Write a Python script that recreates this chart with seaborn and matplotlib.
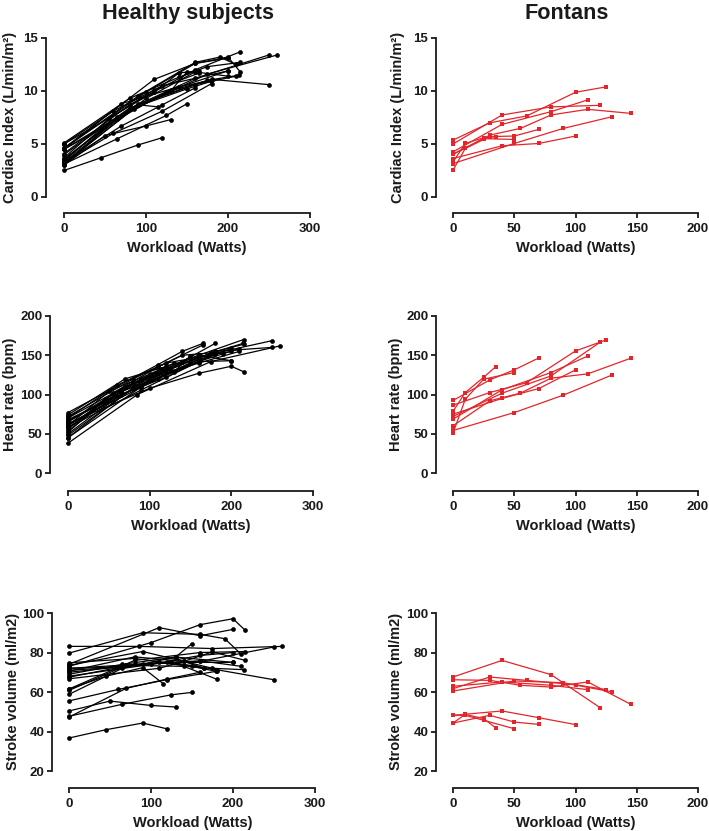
import numpy as np
import pandas as pd
import matplotlib
matplotlib.use("Agg")
import matplotlib.pyplot as plt
import seaborn as sns

# ---------------- data ----------------
# Healthy subjects: workload (W) per stage, and per-stage values
healthy_watts = [
    [0, 45, 90, 120], [0, 50, 100, 130], [0, 65, 125, 150], [0, 70, 120, 160],
    [0, 60, 120, 180], [0, 45, 90, 115], [0, 90, 160, 190, 210], [0, 85, 175, 260],
    [0, 110, 160, 200], [0, 100, 160, 200, 215], [0, 125, 180, 250], [0, 90, 160, 250],
    [0, 80, 160, 215], [0, 80, 140, 175, 215], [0, 110, 140, 165], [0, 70, 140, 180],
    [0, 65, 130, 200], [0, 65, 130, 150], [0, 90, 175, 214], [0, 60, 120, 200],
    [0, 80, 160, 210], [0, 80, 150, 179], [0, 100, 160, 200], [0, 55, 110, 165],
]
healthy_ci = [
    [2.5, 3.7, 4.9, 5.6], [3.0, 5.8, 6.7, 7.3], [3.1, 5.5, 7.7, 8.8], [3.3, 6.7, 8.7, 10.3],
    [3.2, 6.0, 8.1, 10.7], [3.4, 6.4, 8.7, 8.5], [4.6, 9.5, 12.7, 13.2, 12.5], [3.2, 8.3, 11.6, 13.4],
    [4.6, 11.1, 12.6, 13.1], [4.6, 9.9, 12.6, 13.2, 11.8], [4.5, 9.9, 11.1, 10.6], [4.5, 8.7, 11.2, 13.4],
    [4.1, 8.7, 12.0, 13.7], [5.1, 9.3, 11.3, 12.3, 12.7], [5.0, 9.9, 11.7, 11.9], [4.5, 8.8, 10.4, 11.0],
    [3.5, 7.4, 10.1, 11.9], [3.0, 7.5, 10.0, 11.8], [3.3, 8.8, 11.0, 11.5], [5.0, 8.1, 10.5, 11.9],
    [4.0, 8.4, 10.6, 11.4], [3.6, 8.3, 10.2, 10.9], [3.1, 9.3, 11.8, 11.4], [3.7, 7.4, 10.1, 11.7],
]
healthy_hr = [
    [68, 90, 111, 136], [60, 104, 126, 140], [66, 103, 132, 148], [70, 110, 130, 147],
    [58, 98, 122, 152], [56, 94, 120, 132], [58, 106, 142, 152, 158], [38, 100, 142, 162],
    [62, 120, 142, 143], [63, 108, 127, 136, 129], [62, 132, 155, 160], [65, 118, 148, 168.6],
    [66, 115, 150, 170], [72, 120, 150, 153, 164], [77, 138, 155, 165], [74, 120, 142, 165],
    [50, 100, 130, 159], [54, 104, 129, 149], [45, 110, 153, 165], [70, 112, 140, 155],
    [60, 114, 140, 155], [48, 108, 140, 152], [45, 125, 150, 143], [52, 102, 135, 163],
]
healthy_sv = [
    [36.7, 40.9, 44.3, 41.3], [50.4, 55.4, 53.2, 52.4], [47.7, 53.8, 58.6, 59.8], [47.3, 61.9, 66.6, 70.0],
    [55.5, 61.3, 66.3, 70.5], [61.5, 68.0, 72.3, 64.2], [79.7, 90.0, 89.2, 87.0, 79.1], [83.1, 83.1, 82.0, 83.1],
    [74.0, 92.6, 88.5, 91.7], [73.0, 85.0, 94.1, 97.1, 91.2], [72.0, 75.0, 71.3, 66.2], [70.0, 74.0, 75.5, 82.8],
    [61.5, 76.0, 80.0, 80.5], [70.5, 77.8, 75.5, 80.3, 76.0], [66.7, 72.0, 75.5, 72.0], [60.8, 73.5, 73.0, 66.5],
    [69.0, 74.0, 77.7, 75.0], [58.8, 72.0, 77.7, 84.5], [73.5, 80.5, 72.0, 71.3], [71.0, 72.5, 75.0, 75.0],
    [67.5, 74.0, 75.8, 73.0], [74.8, 77.0, 73.0, 70.5], [68.0, 74.0, 78.5, 80.0], [72.0, 72.5, 75.0, 72.0],
]

# Fontan patients
fontan_watts = [
    [0, 10, 25, 35], [0, 10, 25, 50], [0, 30, 50, 70], [0, 40, 70, 100],
    [0, 40, 80, 120], [0, 50, 90, 130], [0, 30, 60, 100, 125], [0, 40, 80, 110],
    [0, 30, 55, 80, 110, 145],
]
fontan_ci = [
    [3.3, 5.05, 5.6, 5.68], [2.53, 4.58, 5.5, 5.43], [4.04, 5.7, 5.75, 6.38], [3.63, 4.83, 5.05, 5.75],
    [5.0, 7.74, 8.5, 8.65], [3.15, 5.05, 6.47, 7.58], [5.37, 7.0, 7.64, 9.88, 10.39], [4.26, 6.85, 8.05, 9.16],
    [4.04, 5.84, 6.47, 7.74, 8.27, 7.89],
]
fontan_hr = [
    [78.4, 102.5, 122, 135.6], [50.8, 94, 119.5, 128], [92.4, 118.6, 131.4, 146.6], [75, 95, 107.6, 131.4],
    [72, 101.7, 123.7, 166.5], [54.2, 77, 99.2, 125], [86.4, 102.5, 115, 155.5, 169.5], [68.6, 106, 128, 149],
    [60.2, 92, 101.7, 120.8, 126.3, 146.2],
]
fontan_sv = [
    [44.3, 48.7, 46.5, 41.8], [48.2, 48.2, 45.7, 41.4], [44.3, 48.2, 44.8, 43.6], [48.2, 50.4, 47, 43.5],
    [67.6, 76, 68.8, 52.1], [60.5, 65.6, 64.7, 60], [61.7, 67.6, 65.9, 63.7, 61.2], [62.9, 65.1, 63.4, 61.2],
    [66.2, 65.9, 63.4, 62.5, 65.1, 53.8],
]

group_titles = ["Healthy subjects", "Fontans"]
ylabels = ["Cardiac Index (L/min/m²)", "Heart rate (bpm)", "Stroke volume (ml/m2)"]
xlabel = "Workload (Watts)"


def build_df(watts, ci, hr, sv):
    rows = []
    for sid, (w, c, h, s) in enumerate(zip(watts, ci, hr, sv)):
        for i in range(len(w)):
            rows.append(dict(subject=sid, watts=w[i], ci=c[i], hr=h[i], sv=s[i]))
    return pd.DataFrame(rows)


df_h = build_df(healthy_watts, healthy_ci, healthy_hr, healthy_sv)
df_f = build_df(fontan_watts, fontan_ci, fontan_hr, fontan_sv)

# ---------------- style ----------------
sns.set_style("ticks")
plt.rcParams["font.family"] = ["Liberation Sans", "DejaVu Sans"]
plt.rcParams["font.weight"] = "bold"

RED = "#e3262b"
W, H = 709, 831
fig = plt.figure(figsize=(W / 100, H / 100), dpi=100)


def px_axes(left, right, top, bottom):
    return fig.add_axes([left / W, 1 - bottom / H, (right - left) / W, (bottom - top) / H])


panels = [
    dict(box=(46, 310, 38, 213), xlim=(-21.95, 300), ylim=(-1.51, 15), yb=(0, 15),
         yt=[0, 5, 10, 15], xt=[0, 100, 200, 300], ylx=-0.11, yly=0.546, xlx=0.534),
    dict(box=(436, 698, 38, 213), xlim=(-13.9, 200), ylim=(-1.51, 15), yb=(0, 15),
         yt=[0, 5, 10, 15], xt=[0, 50, 100, 150, 200], ylx=-0.118, yly=0.546, xlx=0.532),
    dict(box=(50, 313, 316, 491), xlim=(-22, 300), ylim=(-22.9, 200), yb=(0, 200),
         yt=[0, 50, 100, 150, 200], xt=[0, 100, 200, 300], ylx=-0.125, yly=0.551, xlx=0.534),
    dict(box=(436, 698, 316, 491), xlim=(-13.9, 200), ylim=(-22.9, 200), yb=(0, 200),
         yt=[0, 50, 100, 150, 200], xt=[0, 50, 100, 150, 200], ylx=-0.126, yly=0.551, xlx=0.532),
    dict(box=(52, 315, 613, 788), xlim=(-20.7, 300), ylim=(11.4, 100), yb=(20, 100),
         yt=[20, 40, 60, 80, 100], xt=[0, 100, 200, 300], ylx=-0.122, yly=0.549, xlx=0.534),
    dict(box=(436, 698, 613, 788), xlim=(-13.9, 200), ylim=(11.4, 100), yb=(20, 100),
         yt=[20, 40, 60, 80, 100], xt=[0, 50, 100, 150, 200], ylx=-0.126, yly=0.549, xlx=0.532),
]
ycols = ["ci", "hr", "sv"]

for idx, p in enumerate(panels):
    row, col = divmod(idx, 2)
    ax = px_axes(*p["box"])
    df = df_h if col == 0 else df_f
    color = "black" if col == 0 else RED
    marker = "o" if col == 0 else "s"
    ms = 3.4 if col == 0 else 3.4
    sns.lineplot(data=df, x="watts", y=ycols[row], units="subject", estimator=None,
                 sort=False, color=color, marker=marker, markersize=ms,
                 markeredgewidth=0, linewidth=0.9, ax=ax, clip_on=False)
    ax.set_xlim(*p["xlim"])
    ax.set_ylim(*p["ylim"])
    ax.set_xticks(p["xt"])
    ax.set_yticks(p["yt"])
    for s in ["top", "right"]:
        ax.spines[s].set_visible(False)
    ax.spines["left"].set_bounds(*p["yb"])
    ax.spines["bottom"].set_bounds(p["xt"][0], p["xt"][-1])
    for s in ["left", "bottom"]:
        ax.spines[s].set_linewidth(1.3)
        ax.spines[s].set_color("#1a1a1a")
    ax.tick_params(axis="both", length=3.5, width=1.3, color="#1a1a1a",
                   labelsize=9.5, labelcolor="#1a1a1a")
    ax.tick_params(axis="x", pad=4)
    ax.tick_params(axis="y", pad=2)
    for lab in ax.get_xticklabels() + ax.get_yticklabels():
        lab.set_fontweight("bold")
    ax.set_ylabel(ylabels[row], fontsize=10.5, fontweight="bold", color="#1a1a1a")
    ax.yaxis.set_label_coords(p["ylx"], p["yly"])
    ax.set_xlabel(xlabel, fontsize=10.5, fontweight="bold", color="#1a1a1a")
    ax.xaxis.set_label_coords(p["xlx"], -0.16)
    ax.set_facecolor("white")
    ax.grid(False)

fig.text(188 / W, 1 - 3 / H, group_titles[0], ha="center", va="top",
         fontsize=15.6, fontweight="bold", color="#1a1a1a")
fig.text(567 / W, 1 - 3 / H, group_titles[1], ha="center", va="top",
         fontsize=15.6, fontweight="bold", color="#1a1a1a")

fig.savefig("out.png", dpi=100, facecolor="white")
